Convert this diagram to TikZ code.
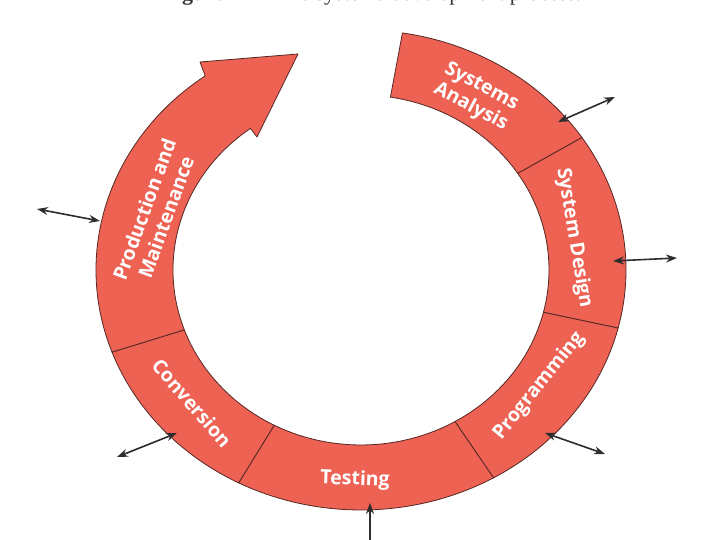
\documentclass[tikz,border=0pt]{standalone}
\usepackage{fontspec}
\newfontfamily\lblfont{Open Sans}
\newfontfamily\capfont{Liberation Serif}
\usetikzlibrary{arrows.meta}
\definecolor{ringred}{RGB}{238,98,84}
\definecolor{ringline}{RGB}{85,40,36}
\definecolor{arrowgray}{RGB}{45,45,45}
\begin{document}
\begin{tikzpicture}[x=1pt,y=1pt,
  seg/.style={fill=ringred, draw=ringline, line width=0.8pt, line join=round},
  lbl/.style={text=white, font=\lblfont\bfseries\fontsize{19.5}{23}\selectfont, align=center, inner sep=0pt},
  io/.style={draw=arrowgray, line width=1.6pt, {Stealth[length=11pt,width=8pt]}-{Stealth[length=11pt,width=8pt]}},
  ioone/.style={draw=arrowgray, line width=1.6pt, -{Stealth[length=11pt,width=8pt]}},
]
\useasboundingbox (0,0) rectangle (720,540);

% caption (clipped at top of the picture)
\node[anchor=base, inner sep=0pt, text=black!80, font=\capfont\fontsize{22}{24}\selectfont] (cap) at (372,539) {\textbf{Figure 14-1} The systems development process.};

% ring segments
\foreach \a/\b in {81/33.5, 33.5/-14, -14/-60, -60/-117.5, -117.5/-160} {
  \filldraw[seg] ({361+265*cos(\a)},{270+240*sin(\a)})
    arc[start angle=\a, end angle=\b, x radius=265, y radius=240]
    -- ({361+188*cos(\b)},{270+175*sin(\b)})
    arc[start angle=\b, end angle=\a, x radius=188, y radius=175] -- cycle;
}
% production and maintenance with arrow head
\filldraw[seg] ({361+265*cos(200)},{270+240*sin(200)})
  arc[start angle=200, end angle=126, x radius=265, y radius=240]
  -- (200,478) -- (298,486) -- (257,403)
  -- ({361+188*cos(126)},{270+175*sin(126)})
  arc[start angle=126, end angle=200, x radius=188, y radius=175] -- cycle;

% labels
\node[lbl, rotate=-28] (sa) at (476,443) {Systems\\Analysis};
\node[lbl, rotate=-80.5] (sd) at (574,302) {System Design};
\node[lbl, rotate=51] (pr) at (539,154) {Programming};
\node[lbl, rotate=-2] (te) at (355,60) {Testing};
\node[lbl, rotate=-49] (co) at (192,137) {Conversion};
\node[lbl, rotate=70] (pm) at (155,327) {Production and\\Maintenance};

% connector end points
\coordinate (saA) at (558,418); \coordinate (saB) at (615,443);
\coordinate (sdA) at (613,279); \coordinate (sdB) at (677,282);
\coordinate (prA) at (545,107); \coordinate (prB) at (605,86);
\coordinate (teA) at (370,-2);  \coordinate (teB) at (370,37);
\coordinate (coA) at (177,107); \coordinate (coB) at (117,83);
\coordinate (pmA) at (100,319); \coordinate (pmB) at (37,331);

\draw[io] (saA) -- (saB);
\draw[io] (sdA) -- (sdB);
\draw[io] (prA) -- (prB);
\draw[ioone] (teA) -- (teB);
\draw[io] (coA) -- (coB);
\draw[io] (pmA) -- (pmB);
\end{tikzpicture}
\end{document}
